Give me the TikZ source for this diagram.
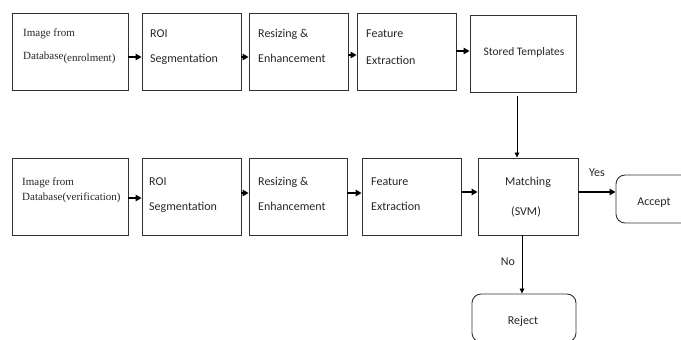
\documentclass[tikz,border=0pt]{standalone}
\usepackage{fontspec}
\setmainfont{Carlito}
\newfontfamily\dbfont{Liberation Serif}
\usetikzlibrary{positioning,arrows.meta}

\begin{document}
\begin{tikzpicture}[x=1pt,y=-1pt,
    blk/.style={draw=black!80, line width=0.9pt, inner sep=0pt, minimum height=77pt},
    endblk/.style={blk, rounded corners=9pt, minimum height=48pt, minimum width=104pt},
    txt/.style={anchor=base west, inner sep=0pt, text=black!85, font=\fontsize{12}{14}\selectfont},
    ctxt/.style={txt, anchor=base},
    dbtxt/.style={txt, font=\fontsize{11}{13}\dbfont},
    arr/.style={-{Triangle[length=6pt,width=6.5pt]}, line width=1.3pt},
    thinarr/.style={-{Triangle[length=5pt,width=4.5pt]}, line width=0.7pt}]

    \useasboundingbox (0,0) rectangle (681,340);
    \clip (0,0) rectangle (681,340);

    % Boxes of both rows
    \foreach \n/\cx/\cy/\w in {img1/70/51.5/116, roi1/191.5/51.5/99, res1/298.5/51.5/99, feat1/406.5/51.5/99, store/523/53.5/106,
                               img2/70/196.5/116, roi2/191.5/196.5/99, res2/298/196.5/98, feat2/411.5/196.5/99, match/528/196.5/100} {
      \node[blk, minimum width=\w pt] (\n) at (\cx,\cy) {};
    }
    \node[endblk] (accept) at (668,199) {};
    \node[endblk] (reject) at (524,318) {};

    % Enrolment row text
    \node[dbtxt] (img1a) at (23,36) {Image from};
    \node[dbtxt] (img1b) at (23,59) {Database\raisebox{-2pt}{(enrolment)}};
    \node[txt] (roi1a) at (150,37) {ROI};
    \node[txt] (roi1b) at (150,63) {Segmentation};
    \node[txt] (res1a) at (258,37) {Resizing \&};
    \node[txt] (res1b) at (258,63) {Enhancement};
    \node[txt] (feat1a) at (366,37) {Feature};
    \node[txt] (feat1b) at (366,64) {Extraction};
    \node[ctxt, font=\fontsize{11.5}{13}\selectfont] (storea) at (524,56) {Stored Templates};

    % Verification row text
    \node[dbtxt] (img2a) at (22,185) {Image from};
    \node[dbtxt] (img2b) at (22,200) {Database(verification)};
    \node[txt] (roi2a) at (149,185) {ROI};
    \node[txt] (roi2b) at (149,210) {Segmentation};
    \node[txt] (res2a) at (258,185) {Resizing \&};
    \node[txt] (res2b) at (258,210) {Enhancement};
    \node[txt] (feat2a) at (371,185) {Feature};
    \node[txt] (feat2b) at (371,210) {Extraction};
    \node[ctxt] (matcha) at (528,185) {Matching};
    \node[ctxt] (matchb) at (526,215) {(SVM)};
    \node[ctxt] (accepta) at (654,205) {Accept};
    \node[ctxt] (rejecta) at (523,324) {Reject};

    % Connectors
    \foreach \a/\b/\dy in {img1/roi1/-5.5, roi1/res1/-5.5, res1/feat1/-3.5, feat1/store/0.5,
                           img2/roi2/-1.5, roi2/res2/3.5, res2/feat2/3.5, feat2/match/4.5, match/accept/4.5} {
      \draw[arr] ([yshift=\dy pt]\a.east) -- ([yshift=\dy pt]\a.east -| \b.west);
    }
    \draw[thinarr] ([xshift=-6pt,yshift=-4pt]store.south) -- ([xshift=-6pt]store.south |- match.north);
    \draw[thinarr] ([xshift=-6pt]match.south) -- ([xshift=-6pt]match.south |- reject.north);

    % Decision labels
    \node[ctxt] (yes) at (597,176) {Yes};
    \node[ctxt] (no) at (508,265) {No};
\end{tikzpicture}
\end{document}
